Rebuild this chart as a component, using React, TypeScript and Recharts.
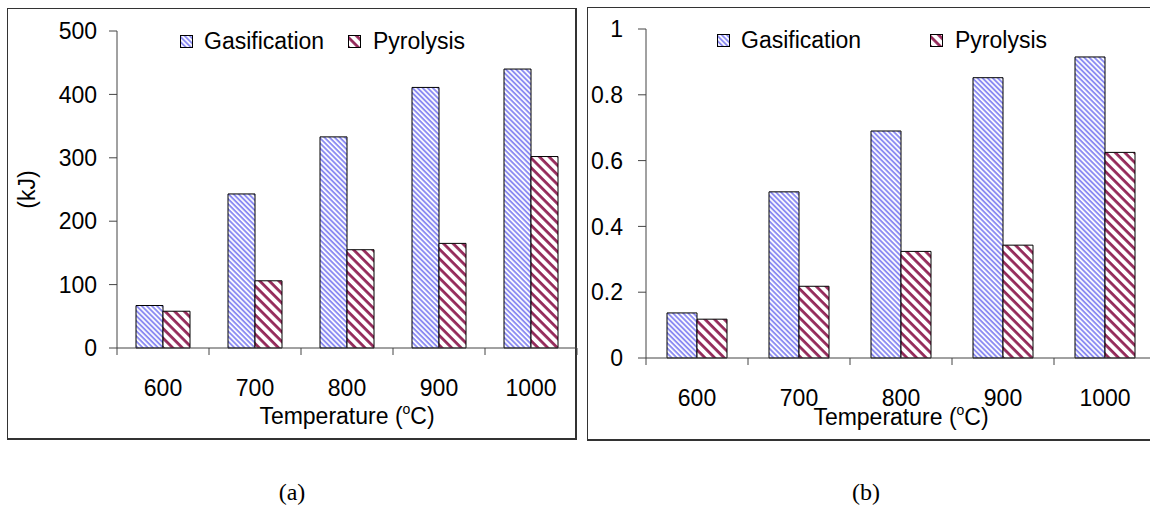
import { BarChart, Bar, XAxis, YAxis, Legend } from 'recharts';

const temperatures = ['600', '700', '800', '900', '1000'];
const gasificationKJ = [67, 243, 333, 411, 440];
const pyrolysisKJ = [58, 106, 155, 165, 302];
const gasificationRatio = [0.137, 0.505, 0.69, 0.852, 0.915];
const pyrolysisRatio = [0.118, 0.218, 0.324, 0.343, 0.625];
const kjTicks = [0, 100, 200, 300, 400, 500];
const ratioTicks = [0, 0.2, 0.4, 0.6, 0.8, 1];

const FONT = '"Liberation Sans", Arial, sans-serif';
const AXIS = '#444';

const energyData = temperatures.map((t, i) => ({ t, gas: gasificationKJ[i], pyro: pyrolysisKJ[i] }));
const ratioData = temperatures.map((t, i) => ({ t, gas: gasificationRatio[i], pyro: pyrolysisRatio[i] }));

function Patterns({ suffix }: { suffix: string }) {
  return (
    <defs>
      <pattern id={`gas${suffix}`} patternUnits="userSpaceOnUse" width="3.6" height="3.6" patternTransform="rotate(45)">
        <rect width="3.6" height="3.6" fill="#fff" />
        <rect width="3.6" height="1.9" fill="#8c8cf2" />
      </pattern>
      <pattern id={`pyro${suffix}`} patternUnits="userSpaceOnUse" width="6.8" height="6.8" patternTransform="rotate(45)">
        <rect width="6.8" height="6.8" fill="#fff" />
        <rect width="6.8" height="2.8" fill="#942a5a" />
      </pattern>
    </defs>
  );
}

// x ticks sit between categories, excel style
function makeTick(band: number, count: number) {
  return (props: any) => {
    const { x, y, payload, index } = props;
    return (
      <g>
        <line x1={x - band / 2} x2={x - band / 2} y1={y} y2={y + 7} stroke={AXIS} />
        {index === count - 1 && <line x1={x + band / 2} x2={x + band / 2} y1={y} y2={y + 7} stroke={AXIS} />}
        <text x={x} y={y + 32} dy="0.71em" textAnchor="middle" fontSize={23} fontFamily={FONT} fill="#000">
          {payload.value}
        </text>
      </g>
    );
  };
}

function tempTitle(offset: number) {
  return (props: any) => {
    const vb = props.viewBox || { x: 0, y: 0, width: 0 };
    return (
      <text x={vb.x + vb.width / 2} y={vb.y + offset} textAnchor="middle" fontSize={23} fontFamily={FONT} fill="#000">
        Temperature (<tspan dy={-10} fontSize={14}>o</tspan><tspan dy={10}>C)</tspan>
      </text>
    );
  };
}

function kjTitle(props: any) {
  const vb = props.viewBox || { x: 0, y: 0, height: 0 };
  const cy = vb.y + vb.height / 2;
  return (
    <text x={27} y={cy} transform={`rotate(-90 27 ${cy})`} textAnchor="middle" dominantBaseline="central"
      fontSize={23} fontFamily={FONT} fill="#000">
      (kJ)
    </text>
  );
}

function makeLegend(suffix: string, spots: number[][]) {
  return (props: any) => (
    <div style={{ position: 'relative', height: 0 }}>
      {(props.payload || []).map((p: any, i: number) => (
        <div key={p.value} style={{ position: 'absolute', left: spots[i][0], top: 0, display: 'flex', alignItems: 'center', whiteSpace: 'nowrap' }}>
          <svg width={13} height={13} style={{ display: 'block' }}>
            <rect x={0.5} y={0.5} width={12} height={12} fill={`url(#${p.dataKey}${suffix})`} stroke="#000" />
          </svg>
          <span style={{ marginLeft: spots[i][1], fontSize: 23, fontFamily: FONT, color: '#000', lineHeight: '26px' }}>{p.value}</span>
        </div>
      ))}
    </div>
  );
}

const frame = (left: number, top: number, width: number, height: number) => ({
  position: 'absolute' as const, left, top, width, height, boxSizing: 'border-box' as const,
  borderTop: '1px solid #333', borderLeft: '1px solid #333', borderRight: '2px solid #333', borderBottom: '2px solid #333',
});

const caption = (left: number) => ({
  position: 'absolute' as const, left, top: 477, width: 100, textAlign: 'center' as const,
  fontFamily: '"Liberation Serif", "Times New Roman", serif', fontSize: 24, lineHeight: '30px',
});

export default function App() {
  return (
    <div style={{ position: 'absolute', left: 0, top: 0, width: 1150, height: 518, background: '#fff', overflow: 'hidden' }}>
      <div style={frame(7, 8, 570, 432)} />
      <div style={frame(587, 7, 600, 434)} />

      <div style={{ position: 'absolute', left: 0, top: 0 }}>
        <BarChart width={580} height={440} data={energyData} margin={{ top: 31, right: 3, bottom: 0, left: 0 }}
          barGap={0} barSize={27}>
          <Patterns suffix="A" />
          <XAxis dataKey="t" height={92} interval={0} tickSize={0} tickMargin={0} stroke={AXIS}
            tick={makeTick(92, temperatures.length)} label={tempTitle(76)} />
          <YAxis width={117} domain={[0, 500]} ticks={kjTicks} tickSize={8} tickMargin={12} stroke={AXIS}
            tick={{ fontSize: 23, fontFamily: FONT, fill: '#000' }} label={kjTitle} />
          <Legend verticalAlign="top" content={makeLegend('A', [[180, 11], [348, 12]])}
            wrapperStyle={{ position: 'absolute', left: 0, top: 28, width: 580 }} />
          <Bar dataKey="gas" name="Gasification" fill="url(#gasA)" stroke="#000" strokeWidth={1} isAnimationActive={false} />
          <Bar dataKey="pyro" name="Pyrolysis" fill="url(#pyroA)" stroke="#000" strokeWidth={1} isAnimationActive={false} />
        </BarChart>
      </div>

      <div style={{ position: 'absolute', left: 580, top: 0, width: 570, height: 518, overflow: 'hidden' }}>
        <BarChart width={576} height={440} data={ratioData} margin={{ top: 29, right: 0, bottom: 0, left: 0 }}
          barGap={0} barSize={30}>
          <Patterns suffix="B" />
          <XAxis dataKey="t" height={82} interval={0} tickSize={0} tickMargin={0} stroke={AXIS}
            tick={makeTick(102, temperatures.length)} label={tempTitle(67)} />
          <YAxis width={66} domain={[0, 1]} ticks={ratioTicks} tickSize={8} tickMargin={15} stroke={AXIS}
            tick={{ fontSize: 23, fontFamily: FONT, fill: '#000' }} />
          <Legend verticalAlign="top" content={makeLegend('B', [[137, 11], [350, 12]])}
            wrapperStyle={{ position: 'absolute', left: 0, top: 27, width: 576 }} />
          <Bar dataKey="gas" name="Gasification" fill="url(#gasB)" stroke="#000" strokeWidth={1} isAnimationActive={false} />
          <Bar dataKey="pyro" name="Pyrolysis" fill="url(#pyroB)" stroke="#000" strokeWidth={1} isAnimationActive={false} />
        </BarChart>
      </div>

      <div style={caption(242)}>(a)</div>
      <div style={caption(816)}>(b)</div>
    </div>
  );
}
